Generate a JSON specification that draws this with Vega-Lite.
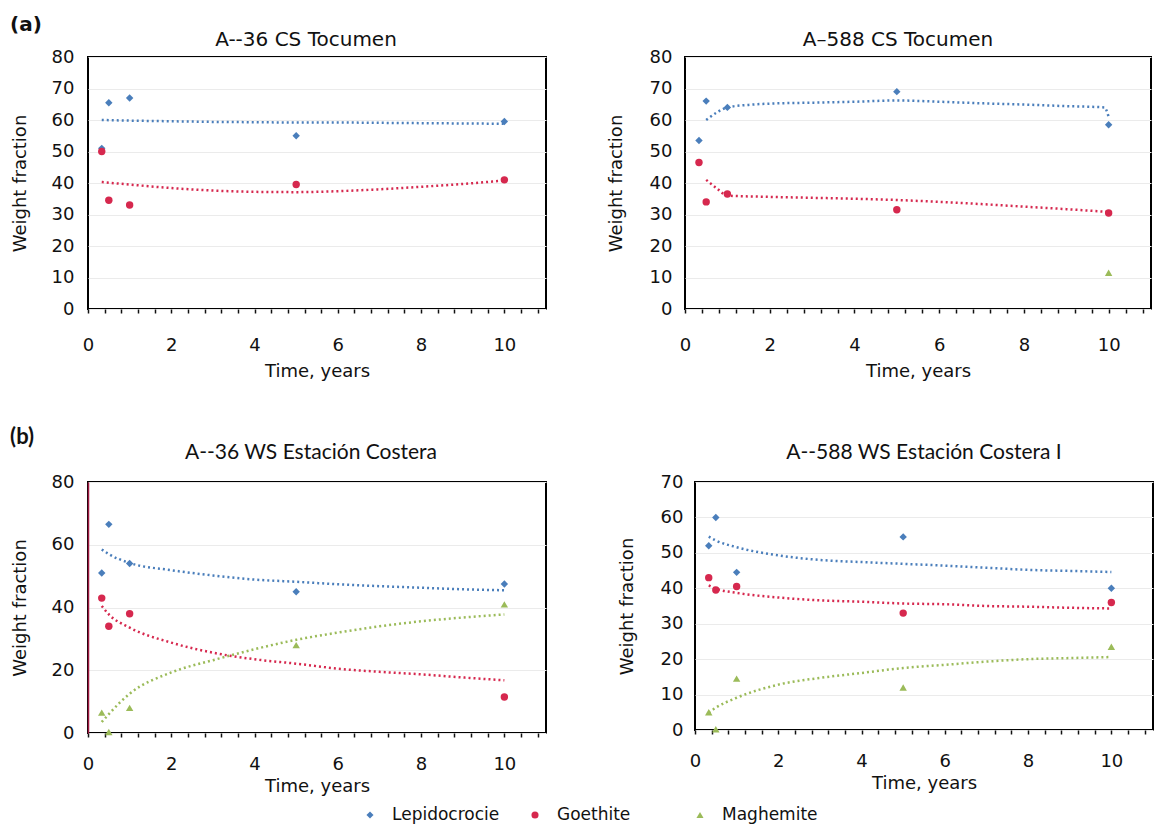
{
  "$schema": "https://vega.github.io/schema/vega-lite/v6.json",
  "background": "white",
  "padding": {"left": 10, "top": 15, "right": 0, "bottom": 5},
  "datasets": {
    "pts": [
      {"panel": "TL", "mineral": "Lepidocrocie", "t": 0.33, "wf": 51},
      {"panel": "TL", "mineral": "Lepidocrocie", "t": 0.5, "wf": 65.5},
      {"panel": "TL", "mineral": "Lepidocrocie", "t": 1, "wf": 67},
      {"panel": "TL", "mineral": "Lepidocrocie", "t": 5, "wf": 55},
      {"panel": "TL", "mineral": "Lepidocrocie", "t": 10, "wf": 59.5},
      {"panel": "TL", "mineral": "Goethite", "t": 0.33, "wf": 50},
      {"panel": "TL", "mineral": "Goethite", "t": 0.5, "wf": 34.5},
      {"panel": "TL", "mineral": "Goethite", "t": 1, "wf": 33},
      {"panel": "TL", "mineral": "Goethite", "t": 5, "wf": 39.5},
      {"panel": "TL", "mineral": "Goethite", "t": 10, "wf": 41},
      {"panel": "TR", "mineral": "Lepidocrocie", "t": 0.33, "wf": 53.5},
      {"panel": "TR", "mineral": "Lepidocrocie", "t": 0.5, "wf": 66},
      {"panel": "TR", "mineral": "Lepidocrocie", "t": 1, "wf": 64},
      {"panel": "TR", "mineral": "Lepidocrocie", "t": 5, "wf": 69},
      {"panel": "TR", "mineral": "Lepidocrocie", "t": 10, "wf": 58.5},
      {"panel": "TR", "mineral": "Goethite", "t": 0.33, "wf": 46.5},
      {"panel": "TR", "mineral": "Goethite", "t": 0.5, "wf": 34},
      {"panel": "TR", "mineral": "Goethite", "t": 1, "wf": 36.5},
      {"panel": "TR", "mineral": "Goethite", "t": 5, "wf": 31.5},
      {"panel": "TR", "mineral": "Goethite", "t": 10, "wf": 30.5},
      {"panel": "TR", "mineral": "Maghemite", "t": 10, "wf": 11.5},
      {"panel": "BL", "mineral": "Lepidocrocie", "t": 0.33, "wf": 51},
      {"panel": "BL", "mineral": "Lepidocrocie", "t": 0.5, "wf": 66.5},
      {"panel": "BL", "mineral": "Lepidocrocie", "t": 1, "wf": 54},
      {"panel": "BL", "mineral": "Lepidocrocie", "t": 5, "wf": 45},
      {"panel": "BL", "mineral": "Lepidocrocie", "t": 10, "wf": 47.5},
      {"panel": "BL", "mineral": "Goethite", "t": 0.33, "wf": 43},
      {"panel": "BL", "mineral": "Goethite", "t": 0.5, "wf": 34},
      {"panel": "BL", "mineral": "Goethite", "t": 1, "wf": 38},
      {"panel": "BL", "mineral": "Goethite", "t": 10, "wf": 11.5},
      {"panel": "BL", "mineral": "Maghemite", "t": 0.33, "wf": 6.5},
      {"panel": "BL", "mineral": "Maghemite", "t": 0.5, "wf": 0.3},
      {"panel": "BL", "mineral": "Maghemite", "t": 1, "wf": 8},
      {"panel": "BL", "mineral": "Maghemite", "t": 5, "wf": 28},
      {"panel": "BL", "mineral": "Maghemite", "t": 10, "wf": 41},
      {"panel": "BR", "mineral": "Lepidocrocie", "t": 0.33, "wf": 52},
      {"panel": "BR", "mineral": "Lepidocrocie", "t": 0.5, "wf": 60},
      {"panel": "BR", "mineral": "Lepidocrocie", "t": 1, "wf": 44.5},
      {"panel": "BR", "mineral": "Lepidocrocie", "t": 5, "wf": 54.5},
      {"panel": "BR", "mineral": "Lepidocrocie", "t": 10, "wf": 40},
      {"panel": "BR", "mineral": "Goethite", "t": 0.33, "wf": 43},
      {"panel": "BR", "mineral": "Goethite", "t": 0.5, "wf": 39.5},
      {"panel": "BR", "mineral": "Goethite", "t": 1, "wf": 40.5},
      {"panel": "BR", "mineral": "Goethite", "t": 5, "wf": 33},
      {"panel": "BR", "mineral": "Goethite", "t": 10, "wf": 36},
      {"panel": "BR", "mineral": "Maghemite", "t": 0.33, "wf": 5},
      {"panel": "BR", "mineral": "Maghemite", "t": 0.5, "wf": 0.2},
      {"panel": "BR", "mineral": "Maghemite", "t": 1, "wf": 14.5},
      {"panel": "BR", "mineral": "Maghemite", "t": 5, "wf": 12},
      {"panel": "BR", "mineral": "Maghemite", "t": 10, "wf": 23.5}
    ],
    "fit": [
      {"panel": "TL", "mineral": "Lepidocrocie", "t": 0.33, "wf": 60},
      {"panel": "TL", "mineral": "Lepidocrocie", "t": 1, "wf": 59.8},
      {"panel": "TL", "mineral": "Lepidocrocie", "t": 2, "wf": 59.6},
      {"panel": "TL", "mineral": "Lepidocrocie", "t": 3, "wf": 59.4},
      {"panel": "TL", "mineral": "Lepidocrocie", "t": 4, "wf": 59.3},
      {"panel": "TL", "mineral": "Lepidocrocie", "t": 5, "wf": 59.2},
      {"panel": "TL", "mineral": "Lepidocrocie", "t": 6, "wf": 59.2},
      {"panel": "TL", "mineral": "Lepidocrocie", "t": 7, "wf": 59.1},
      {"panel": "TL", "mineral": "Lepidocrocie", "t": 8, "wf": 59},
      {"panel": "TL", "mineral": "Lepidocrocie", "t": 9, "wf": 58.9},
      {"panel": "TL", "mineral": "Lepidocrocie", "t": 10, "wf": 58.8},
      {"panel": "TL", "mineral": "Goethite", "t": 0.33, "wf": 40.3},
      {"panel": "TL", "mineral": "Goethite", "t": 1, "wf": 39.5},
      {"panel": "TL", "mineral": "Goethite", "t": 2, "wf": 38.4},
      {"panel": "TL", "mineral": "Goethite", "t": 3, "wf": 37.6},
      {"panel": "TL", "mineral": "Goethite", "t": 4, "wf": 37.2},
      {"panel": "TL", "mineral": "Goethite", "t": 5, "wf": 37.1},
      {"panel": "TL", "mineral": "Goethite", "t": 6, "wf": 37.4},
      {"panel": "TL", "mineral": "Goethite", "t": 7, "wf": 38},
      {"panel": "TL", "mineral": "Goethite", "t": 8, "wf": 38.8},
      {"panel": "TL", "mineral": "Goethite", "t": 9, "wf": 39.7},
      {"panel": "TL", "mineral": "Goethite", "t": 10, "wf": 40.8},
      {"panel": "TR", "mineral": "Lepidocrocie", "t": 0.5, "wf": 60},
      {"panel": "TR", "mineral": "Lepidocrocie", "t": 0.75, "wf": 62.4},
      {"panel": "TR", "mineral": "Lepidocrocie", "t": 1, "wf": 64},
      {"panel": "TR", "mineral": "Lepidocrocie", "t": 1.5, "wf": 64.8},
      {"panel": "TR", "mineral": "Lepidocrocie", "t": 2, "wf": 65.2},
      {"panel": "TR", "mineral": "Lepidocrocie", "t": 3, "wf": 65.5},
      {"panel": "TR", "mineral": "Lepidocrocie", "t": 4, "wf": 65.8},
      {"panel": "TR", "mineral": "Lepidocrocie", "t": 5, "wf": 66.2},
      {"panel": "TR", "mineral": "Lepidocrocie", "t": 6, "wf": 65.8},
      {"panel": "TR", "mineral": "Lepidocrocie", "t": 7, "wf": 65.3},
      {"panel": "TR", "mineral": "Lepidocrocie", "t": 8, "wf": 64.9},
      {"panel": "TR", "mineral": "Lepidocrocie", "t": 9, "wf": 64.4},
      {"panel": "TR", "mineral": "Lepidocrocie", "t": 9.9, "wf": 64},
      {"panel": "TR", "mineral": "Lepidocrocie", "t": 10, "wf": 61},
      {"panel": "TR", "mineral": "Goethite", "t": 0.5, "wf": 41},
      {"panel": "TR", "mineral": "Goethite", "t": 0.75, "wf": 38.3},
      {"panel": "TR", "mineral": "Goethite", "t": 1, "wf": 36},
      {"panel": "TR", "mineral": "Goethite", "t": 2, "wf": 35.6},
      {"panel": "TR", "mineral": "Goethite", "t": 3, "wf": 35.3},
      {"panel": "TR", "mineral": "Goethite", "t": 4, "wf": 35},
      {"panel": "TR", "mineral": "Goethite", "t": 5, "wf": 34.6},
      {"panel": "TR", "mineral": "Goethite", "t": 6, "wf": 34},
      {"panel": "TR", "mineral": "Goethite", "t": 7, "wf": 33.3},
      {"panel": "TR", "mineral": "Goethite", "t": 8, "wf": 32.5},
      {"panel": "TR", "mineral": "Goethite", "t": 9, "wf": 31.7},
      {"panel": "TR", "mineral": "Goethite", "t": 10, "wf": 30.8},
      {"panel": "BL", "mineral": "Lepidocrocie", "t": 0.33, "wf": 58.5},
      {"panel": "BL", "mineral": "Lepidocrocie", "t": 0.5, "wf": 57},
      {"panel": "BL", "mineral": "Lepidocrocie", "t": 1, "wf": 54.2},
      {"panel": "BL", "mineral": "Lepidocrocie", "t": 2, "wf": 51.9},
      {"panel": "BL", "mineral": "Lepidocrocie", "t": 3, "wf": 50.2},
      {"panel": "BL", "mineral": "Lepidocrocie", "t": 4, "wf": 48.9},
      {"panel": "BL", "mineral": "Lepidocrocie", "t": 5, "wf": 48.2},
      {"panel": "BL", "mineral": "Lepidocrocie", "t": 6, "wf": 47.4},
      {"panel": "BL", "mineral": "Lepidocrocie", "t": 7, "wf": 46.8},
      {"panel": "BL", "mineral": "Lepidocrocie", "t": 8, "wf": 46.3},
      {"panel": "BL", "mineral": "Lepidocrocie", "t": 9, "wf": 45.8},
      {"panel": "BL", "mineral": "Lepidocrocie", "t": 10, "wf": 45.5},
      {"panel": "BL", "mineral": "Goethite", "t": 0.33, "wf": 40.5},
      {"panel": "BL", "mineral": "Goethite", "t": 0.5, "wf": 37.8},
      {"panel": "BL", "mineral": "Goethite", "t": 1, "wf": 33.6},
      {"panel": "BL", "mineral": "Goethite", "t": 2, "wf": 28.8},
      {"panel": "BL", "mineral": "Goethite", "t": 3, "wf": 25.6},
      {"panel": "BL", "mineral": "Goethite", "t": 4, "wf": 23.5},
      {"panel": "BL", "mineral": "Goethite", "t": 5, "wf": 22.1},
      {"panel": "BL", "mineral": "Goethite", "t": 6, "wf": 20.5},
      {"panel": "BL", "mineral": "Goethite", "t": 7, "wf": 19.5},
      {"panel": "BL", "mineral": "Goethite", "t": 8, "wf": 18.7},
      {"panel": "BL", "mineral": "Goethite", "t": 9, "wf": 17.7},
      {"panel": "BL", "mineral": "Goethite", "t": 10, "wf": 16.8},
      {"panel": "BL", "mineral": "Maghemite", "t": 0.33, "wf": 3.5},
      {"panel": "BL", "mineral": "Maghemite", "t": 0.5, "wf": 6},
      {"panel": "BL", "mineral": "Maghemite", "t": 0.75, "wf": 9.5},
      {"panel": "BL", "mineral": "Maghemite", "t": 1, "wf": 12.5},
      {"panel": "BL", "mineral": "Maghemite", "t": 2, "wf": 19.3},
      {"panel": "BL", "mineral": "Maghemite", "t": 3, "wf": 23.2},
      {"panel": "BL", "mineral": "Maghemite", "t": 4, "wf": 26.7},
      {"panel": "BL", "mineral": "Maghemite", "t": 5, "wf": 29.7},
      {"panel": "BL", "mineral": "Maghemite", "t": 6, "wf": 32},
      {"panel": "BL", "mineral": "Maghemite", "t": 7, "wf": 34},
      {"panel": "BL", "mineral": "Maghemite", "t": 8, "wf": 35.6},
      {"panel": "BL", "mineral": "Maghemite", "t": 9, "wf": 36.8},
      {"panel": "BL", "mineral": "Maghemite", "t": 10, "wf": 37.8},
      {"panel": "BR", "mineral": "Lepidocrocie", "t": 0.33, "wf": 54.6},
      {"panel": "BR", "mineral": "Lepidocrocie", "t": 0.5, "wf": 53.5},
      {"panel": "BR", "mineral": "Lepidocrocie", "t": 1, "wf": 51.6},
      {"panel": "BR", "mineral": "Lepidocrocie", "t": 2, "wf": 49.3},
      {"panel": "BR", "mineral": "Lepidocrocie", "t": 3, "wf": 48},
      {"panel": "BR", "mineral": "Lepidocrocie", "t": 4, "wf": 47.4},
      {"panel": "BR", "mineral": "Lepidocrocie", "t": 5, "wf": 46.9},
      {"panel": "BR", "mineral": "Lepidocrocie", "t": 6, "wf": 46.4},
      {"panel": "BR", "mineral": "Lepidocrocie", "t": 7, "wf": 45.8},
      {"panel": "BR", "mineral": "Lepidocrocie", "t": 8, "wf": 45.2},
      {"panel": "BR", "mineral": "Lepidocrocie", "t": 9, "wf": 44.9},
      {"panel": "BR", "mineral": "Lepidocrocie", "t": 10, "wf": 44.6},
      {"panel": "BR", "mineral": "Goethite", "t": 0.33, "wf": 40.8},
      {"panel": "BR", "mineral": "Goethite", "t": 0.5, "wf": 39.9},
      {"panel": "BR", "mineral": "Goethite", "t": 1, "wf": 38.7},
      {"panel": "BR", "mineral": "Goethite", "t": 2, "wf": 37.4},
      {"panel": "BR", "mineral": "Goethite", "t": 3, "wf": 36.6},
      {"panel": "BR", "mineral": "Goethite", "t": 4, "wf": 36.2},
      {"panel": "BR", "mineral": "Goethite", "t": 5, "wf": 35.7},
      {"panel": "BR", "mineral": "Goethite", "t": 6, "wf": 35.5},
      {"panel": "BR", "mineral": "Goethite", "t": 7, "wf": 35},
      {"panel": "BR", "mineral": "Goethite", "t": 8, "wf": 34.8},
      {"panel": "BR", "mineral": "Goethite", "t": 9, "wf": 34.5},
      {"panel": "BR", "mineral": "Goethite", "t": 10, "wf": 34.3},
      {"panel": "BR", "mineral": "Maghemite", "t": 0.33, "wf": 4.9},
      {"panel": "BR", "mineral": "Maghemite", "t": 0.5, "wf": 6.3},
      {"panel": "BR", "mineral": "Maghemite", "t": 1, "wf": 9.1},
      {"panel": "BR", "mineral": "Maghemite", "t": 2, "wf": 12.8},
      {"panel": "BR", "mineral": "Maghemite", "t": 3, "wf": 14.7},
      {"panel": "BR", "mineral": "Maghemite", "t": 4, "wf": 16.1},
      {"panel": "BR", "mineral": "Maghemite", "t": 5, "wf": 17.5},
      {"panel": "BR", "mineral": "Maghemite", "t": 6, "wf": 18.4},
      {"panel": "BR", "mineral": "Maghemite", "t": 7, "wf": 19.3},
      {"panel": "BR", "mineral": "Maghemite", "t": 8, "wf": 20},
      {"panel": "BR", "mineral": "Maghemite", "t": 9, "wf": 20.3},
      {"panel": "BR", "mineral": "Maghemite", "t": 10, "wf": 20.6}
    ],
    "legend": [
      {"mineral": "Lepidocrocie"},
      {"mineral": "Goethite"},
      {"mineral": "Maghemite"}
    ]
  },
  "config": {
    "font": "DejaVu Sans",
    "view": {"stroke": "black", "strokeWidth": 2},
    "axis": {
      "labelFont": "DejaVu Sans", "labelFontSize": 18, "labelColor": "#111111",
      "titleFont": "DejaVu Sans", "titleFontSize": 18, "titleFontWeight": "normal", "titleColor": "#111111",
      "domain": false, "gridColor": "#ebebeb", "tickColor": "#111111"
    },
    "axisY": {"ticks": false, "labelPadding": 14, "titlePadding": 22},
    "axisX": {"grid": false, "ticks": true, "tickSize": 4, "tickWidth": 1.5, "labelPadding": 23, "titlePadding": 8, "labelFlush": false, "labelOverlap": false},
    "title": {"font": "DejaVu Sans", "fontSize": 20, "fontWeight": "normal", "color": "#111111", "offset": 10}
  },
  "resolve": {"scale": {"color": "shared", "shape": "shared"}, "legend": {"color": "shared", "shape": "shared"}},
  "spacing": 9,
  "vconcat": [
    {
      "spacing": 45,
      "resolve": {"scale": {"color": "shared", "shape": "shared"}, "legend": {"color": "shared", "shape": "shared"}},
      "vconcat": [
        {
          "title": {"text": "(a)", "anchor": "start", "frame": "bounds", "fontSize": 20, "fontWeight": "bold", "offset": -6},
          "spacing": 59,
          "hconcat": [
            {
              "width": 458, "height": 252,
              "title": {"text": "A--36 CS Tocumen", "offset": -2, "dx": -11},
              "encoding": {
                "x": {"field": "t", "type": "quantitative", "scale": {"domain": [0, 11], "nice": false},
                  "axis": {"title": "Time, years", "labelPadding": 23, "values": [0,0.4,0.8,1.2,1.6,2,2.4,2.8,3.2,3.6,4,4.4,4.8,5.2,5.6,6,6.4,6.8,7.2,7.6,8,8.4,8.8,9.2,9.6,10,10.4,10.8], "labelExpr": "datum.value % 2 === 0 ? format(datum.value, 'd') : ''"}},
                "y": {"field": "wf", "type": "quantitative", "scale": {"domain": [0, 80], "nice": false},
                  "axis": {"title": "Weight fraction", "values": [0,10,20,30,40,50,60,70,80]}}
              },
              "layer": [
                {"data": {"name": "fit"}, "transform": [{"filter": "datum.panel === 'TL'"}],
                 "mark": {"type": "line", "strokeDash": [2, 3], "strokeWidth": 2.5, "interpolate": "monotone"},
                 "encoding": {"stroke": {"field": "mineral", "type": "nominal", "legend": null, "scale": {"domain": ["Lepidocrocie", "Goethite", "Maghemite"], "range": ["#4a7ebb", "#d6284e", "#9bbb59"]}}}},
                {"data": {"name": "pts"}, "transform": [{"filter": "datum.panel === 'TL'"}],
                 "mark": {"type": "point", "filled": true, "size": 55, "opacity": 1},
                 "encoding": {
                   "color": {"field": "mineral", "type": "nominal", "legend": null, "scale": {"domain": ["Lepidocrocie", "Goethite", "Maghemite"], "range": ["#4a7ebb", "#d6284e", "#9bbb59"]}},
                   "shape": {"field": "mineral", "type": "nominal", "legend": null, "scale": {"domain": ["Lepidocrocie", "Goethite", "Maghemite"], "range": ["diamond", "circle", "triangle-up"]}}
                 }}
              ]
            },
            {
              "width": 466, "height": 252,
              "title": {"text": "A–588 CS Tocumen", "offset": -2, "dx": -20},
              "encoding": {
                "x": {"field": "t", "type": "quantitative", "scale": {"domain": [0, 11], "nice": false},
                  "axis": {"title": "Time, years", "labelPadding": 23, "values": [0,0.4,0.8,1.2,1.6,2,2.4,2.8,3.2,3.6,4,4.4,4.8,5.2,5.6,6,6.4,6.8,7.2,7.6,8,8.4,8.8,9.2,9.6,10,10.4,10.8], "labelExpr": "datum.value % 2 === 0 ? format(datum.value, 'd') : ''"}},
                "y": {"field": "wf", "type": "quantitative", "scale": {"domain": [0, 80], "nice": false},
                  "axis": {"title": "Weight fraction", "labelPadding": 13, "titlePadding": 24, "values": [0,10,20,30,40,50,60,70,80]}}
              },
              "layer": [
                {"data": {"name": "fit"}, "transform": [{"filter": "datum.panel === 'TR'"}],
                 "mark": {"type": "line", "strokeDash": [2, 3], "strokeWidth": 2.5, "interpolate": "monotone"},
                 "encoding": {"stroke": {"field": "mineral", "type": "nominal", "legend": null}}},
                {"data": {"name": "pts"}, "transform": [{"filter": "datum.panel === 'TR'"}],
                 "mark": {"type": "point", "filled": true, "size": 55, "opacity": 1},
                 "encoding": {
                   "color": {"field": "mineral", "type": "nominal", "legend": null},
                   "shape": {"field": "mineral", "type": "nominal", "legend": null}
                 }}
              ]
            }
          ]
        },
        {
          "title": {"text": "(b)", "anchor": "start", "frame": "bounds", "font": "Lato", "fontSize": 22, "fontWeight": "bold", "offset": -8},
          "spacing": 70,
          "hconcat": [
            {
              "width": 458, "height": 251,
              "title": {"text": "A--36 WS Estación Costera", "font": "Lato", "fontSize": 21, "dx": -6},
              "encoding": {
                "x": {"field": "t", "type": "quantitative", "scale": {"domain": [0, 11], "nice": false},
                  "axis": {"title": "Time, years", "labelPadding": 18, "titlePadding": 4, "values": [0,0.4,0.8,1.2,1.6,2,2.4,2.8,3.2,3.6,4,4.4,4.8,5.2,5.6,6,6.4,6.8,7.2,7.6,8,8.4,8.8,9.2,9.6,10,10.4,10.8], "labelExpr": "datum.value % 2 === 0 ? format(datum.value, 'd') : ''"}},
                "y": {"field": "wf", "type": "quantitative", "scale": {"domain": [0, 80], "nice": false},
                  "axis": {"title": "Weight fraction", "values": [0,20,40,60,80], "domain": true, "domainColor": "#a01840", "domainWidth": 1.5}}
              },
              "layer": [
                {"data": {"name": "fit"}, "transform": [{"filter": "datum.panel === 'BL'"}],
                 "mark": {"type": "line", "strokeDash": [2, 3], "strokeWidth": 2.5, "interpolate": "monotone"},
                 "encoding": {"stroke": {"field": "mineral", "type": "nominal", "legend": null}}},
                {"data": {"name": "pts"}, "transform": [{"filter": "datum.panel === 'BL'"}],
                 "mark": {"type": "point", "filled": true, "size": 55, "opacity": 1},
                 "encoding": {
                   "color": {"field": "mineral", "type": "nominal", "legend": null},
                   "shape": {"field": "mineral", "type": "nominal", "legend": null}
                 }}
              ]
            },
            {
              "width": 458, "height": 248,
              "title": {"text": "A--588 WS Estación Costera I", "font": "Lato", "fontSize": 21},
              "encoding": {
                "x": {"field": "t", "type": "quantitative", "scale": {"domain": [0, 11], "nice": false},
                  "axis": {"title": "Time, years", "labelPadding": 18, "titlePadding": 4, "values": [0,0.4,0.8,1.2,1.6,2,2.4,2.8,3.2,3.6,4,4.4,4.8,5.2,5.6,6,6.4,6.8,7.2,7.6,8,8.4,8.8,9.2,9.6,10,10.4,10.8], "labelExpr": "datum.value % 2 === 0 ? format(datum.value, 'd') : ''"}},
                "y": {"field": "wf", "type": "quantitative", "scale": {"domain": [0, 70], "nice": false},
                  "axis": {"title": "Weight fraction", "labelPadding": 12, "titlePadding": 24, "values": [0,10,20,30,40,50,60,70]}}
              },
              "layer": [
                {"data": {"name": "fit"}, "transform": [{"filter": "datum.panel === 'BR'"}],
                 "mark": {"type": "line", "strokeDash": [2, 3], "strokeWidth": 2.5, "interpolate": "monotone"},
                 "encoding": {"stroke": {"field": "mineral", "type": "nominal", "legend": null}}},
                {"data": {"name": "pts"}, "transform": [{"filter": "datum.panel === 'BR'"}],
                 "mark": {"type": "point", "filled": true, "size": 55, "opacity": 1},
                 "encoding": {
                   "color": {"field": "mineral", "type": "nominal", "legend": null},
                   "shape": {"field": "mineral", "type": "nominal", "legend": null}
                 }}
              ]
            }
          ]
        }
      ]
    },
    {
      "width": 830, "height": 20,
      "view": {"stroke": null},
      "data": {"name": "legend"},
      "encoding": {
        "x": {"field": "mineral", "type": "nominal", "sort": null, "scale": {"domain": ["Lepidocrocie", "Goethite", "Maghemite"], "range": [282, 612], "padding": 0}, "axis": null}
      },
      "layer": [
        {"mark": {"type": "point", "filled": true, "size": 50, "opacity": 1},
         "encoding": {
           "color": {"field": "mineral", "type": "nominal", "legend": null},
           "shape": {"field": "mineral", "type": "nominal", "legend": null}
         }},
        {"mark": {"type": "text", "align": "left", "baseline": "middle", "dx": 22, "font": "DejaVu Sans", "fontSize": 17, "color": "#111111"},
         "encoding": {"text": {"field": "mineral", "type": "nominal"}}}
      ]
    }
  ]
}
